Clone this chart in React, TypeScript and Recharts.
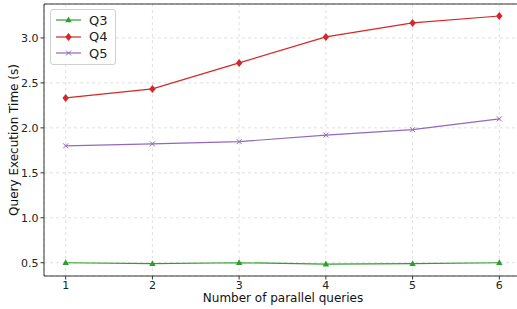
import React from "react";
import { LineChart, Line, XAxis, YAxis, CartesianGrid, ReferenceLine } from "recharts";

const queries = [1, 2, 3, 4, 5, 6];
const q3 = [0.5, 0.49, 0.5, 0.485, 0.49, 0.5];
const q4 = [2.333, 2.433, 2.722, 3.011, 3.167, 3.244];
const q5 = [1.8, 1.822, 1.847, 1.92, 1.98, 2.1];
const yTicks = [0.5, 1.0, 1.5, 2.0, 2.5, 3.0];

const data = queries.map((n, i) => ({ n, Q3: q3[i], Q4: q4[i], Q5: q5[i] }));

const FONT = "DejaVu Sans, sans-serif";
const Y_MAX = 3.3775;

const Triangle = (props: any) => {
  const { cx, cy, fill } = props;
  return (
    <path
      d={`M${cx},${cy - 3.5} L${cx + 3.2},${cy + 2.3} L${cx - 3.2},${cy + 2.3} Z`}
      fill={fill}
    />
  );
};

const Diamond = (props: any) => {
  const { cx, cy, fill } = props;
  return (
    <path
      d={`M${cx},${cy - 4} L${cx + 3.2},${cy} L${cx},${cy + 4} L${cx - 3.2},${cy} Z`}
      fill={fill}
    />
  );
};

const Cross = (props: any) => {
  const { cx, cy, stroke } = props;
  return (
    <path
      d={`M${cx - 2.5},${cy - 2.5} L${cx + 2.5},${cy + 2.5} M${cx + 2.5},${cy - 2.5} L${cx - 2.5},${cy + 2.5}`}
      stroke={stroke}
      strokeWidth={1}
      fill="none"
    />
  );
};

const series = [
  { key: "Q3", color: "#2ca02c", Shape: Triangle },
  { key: "Q4", color: "#d62728", Shape: Diamond },
  { key: "Q5", color: "#9467bd", Shape: Cross },
];

const XTitle = () => (
  <text x={283} y={298} textAnchor="middle" dominantBaseline="central" fill="#111" fontSize={12} fontFamily={FONT}>
    Number of parallel queries
  </text>
);

const YTitle = () => (
  <text
    x={14}
    y={140}
    transform="rotate(-90 14 140)"
    textAnchor="middle"
    dominantBaseline="central"
    fill="#111"
    fontSize={12}
    fontFamily={FONT}
  >
    Query Execution Time (s)
  </text>
);

const LegendBox = () => (
  <div
    style={{
      position: "absolute",
      left: 50,
      top: 9,
      border: "1px solid #d0d0d0",
      borderRadius: 3,
      background: "rgba(255,255,255,0.8)",
      padding: "2px 7px 2px 3px",
      fontFamily: FONT,
      fontSize: 13,
      color: "#222",
    }}
  >
    {series.map(({ key, color, Shape }) => (
      <div key={key} style={{ display: "flex", alignItems: "center", height: 16.5 }}>
        <svg width={28} height={12}>
          <line x1={2} y1={6} x2={27} y2={6} stroke={color} strokeWidth={1.2} />
          <Shape cx={14.5} cy={6} fill={color} stroke={color} />
        </svg>
        <span style={{ marginLeft: 7 }}>{key}</span>
      </div>
    ))}
  </div>
);

export default function App() {
  return (
    <div
      style={{
        position: "absolute",
        left: 0,
        top: 0,
        width: 517,
        height: 309,
        overflow: "hidden",
        background: "#fff",
      }}
    >
      <LineChart
        width={521}
        height={309}
        data={data}
        margin={{ top: 4, right: 0, bottom: 0, left: 0 }}
      >
        <CartesianGrid stroke="#d8d8d8" strokeDasharray="3 3" strokeWidth={0.8} />
        <XAxis
          dataKey="n"
          type="number"
          domain={[0.75, 6.25]}
          ticks={queries}
          height={33}
          stroke="#333"
          tick={{ fill: "#222", fontSize: 11, fontFamily: FONT }}
          tickSize={3.5}
          tickMargin={2}
          label={<XTitle />}
        />
        <YAxis
          type="number"
          domain={[0.3525, Y_MAX]}
          ticks={yTicks}
          width={44}
          stroke="#333"
          tick={{ fill: "#222", fontSize: 11, fontFamily: FONT }}
          tickFormatter={(v: number) => v.toFixed(1)}
          tickSize={3.5}
          tickMargin={2}
          label={<YTitle />}
        />
        <ReferenceLine y={Y_MAX} stroke="#333" strokeWidth={1} />
        {series.map(({ key, color, Shape }) => (
          <Line
            key={key}
            dataKey={key}
            stroke={color}
            strokeWidth={1.2}
            type="linear"
            isAnimationActive={false}
            dot={(p: any) => <Shape key={p.index} cx={p.cx} cy={p.cy} fill={color} stroke={color} />}
            activeDot={false}
          />
        ))}
      </LineChart>
      <LegendBox />
    </div>
  );
}
